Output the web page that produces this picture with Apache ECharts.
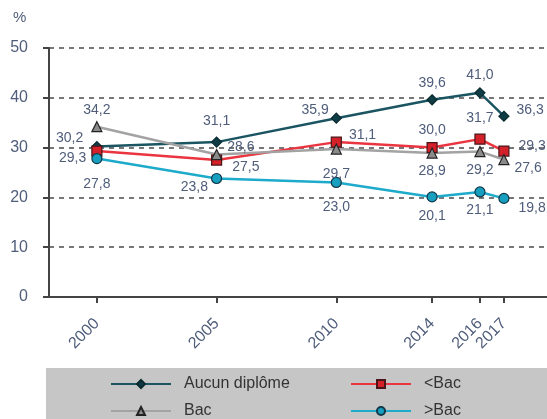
<!DOCTYPE html>
<html>
<head>
<meta charset="utf-8">
<script src="https://cdn.jsdelivr.net/npm/echarts@6/dist/echarts.min.js"></script>
<style>
html, body { margin: 0; padding: 0; background: #fff; }
#chart { width: 547px; height: 419px; }
</style>
</head>
<body>
<div id="chart"></div>
<script>
var years = [2000, 2005, 2010, 2014, 2016, 2017];
var aucun = [30.2, 31.1, 35.9, 39.6, 41.0, 36.3];
var infBac = [29.3, 27.5, 31.1, 30.0, 31.7, 29.3];
var bac = [34.2, 28.6, 29.7, 28.9, 29.2, 27.6];
var supBac = [27.8, 23.8, 23.0, 20.1, 21.1, 19.8];
var yTicks = [0, 10, 20, 30, 40, 50];

// label placement for each point: [position, dx, dy]
var aucunLbl = [["left", -3, -8], ["top", 0, -3], ["left", 3, -8], ["top", 0, 1], ["top", 0, 0], ["right", 2, -6]];
var infLbl = [["left", 0, 7], ["right", 5, 7], ["right", 2, -7], ["top", 0, 0], ["top", 0, -3], ["right", 4, -5]];
var bacLbl = [["top", 0, 1], ["right", 0, -7], ["bottom", 0, 7], ["bottom", 0, 0], ["bottom", 0, 1], ["right", 0, 9]];
var supLbl = [["bottom", 0, 8], ["left", 2, 9], ["bottom", 0, 7], ["bottom", 0, 2], ["bottom", 0, 1], ["right", 4, 10]];

var font = "'Liberation Sans', Arial, sans-serif";
var textColor = "#4f5d7a";

function points(vals, lbl) {
    return vals.map(function (v, i) {
        return {
            value: [years[i], v],
            label: { position: lbl[i][0], offset: [lbl[i][1], lbl[i][2]] }
        };
    });
}

function makeSeries(name, vals, lbl, color, symbol, size, fill, border) {
    return {
        name: name,
        type: "line",
        data: points(vals, lbl),
        symbol: symbol,
        symbolSize: size,
        lineStyle: { color: color, width: 2.5 },
        itemStyle: { color: fill, borderColor: border, borderWidth: 1.2 },
        label: {
            show: true,
            color: textColor,
            fontFamily: font,
            fontSize: 14,
            formatter: function (p) { return p.value[1].toFixed(1).replace(".", ","); }
        },
        emphasis: { disabled: true },
        z: 3
    };
}

var legendText = { fontFamily: font, fontSize: 16, color: "#333", lineHeight: 18, padding: [0, 0, 0, 8] };

var dom = document.getElementById("chart");
var myChart = echarts.init(dom);
option = {
    animation: false,
    backgroundColor: "#fff",
    graphic: [
        { type: "rect", left: 46, top: 368, shape: { width: 501, height: 51 }, style: { fill: "#c6c6c6" }, z: -10 },
        { type: "text", left: 13, top: 10, style: { text: "%", fill: textColor, font: "15px " + font } }
    ],
    grid: { left: 49, right: 0, top: 48, bottom: 122 },
    legend: [
        {
            orient: "vertical", left: 110, top: 375, height: 50, padding: 0,
            itemWidth: 60, itemHeight: 10, itemGap: 9,
            data: ["Aucun diplôme", "Bac"],
            textStyle: legendText
        },
        {
            orient: "vertical", left: 350, top: 375, height: 50, padding: 0,
            itemWidth: 60, itemHeight: 10, itemGap: 9,
            data: ["<Bac", ">Bac"],
            textStyle: legendText
        }
    ],
    xAxis: {
        type: "value",
        min: 1998,
        max: 2018.8,
        splitLine: { show: false },
        axisLine: { lineStyle: { color: "#444", width: 2 } },
        axisTick: { show: true, customValues: years, length: 6, lineStyle: { color: "#444", width: 2 } },
        axisLabel: {
            customValues: years,
            rotate: 45,
            margin: 24,
            color: textColor,
            fontFamily: font,
            fontSize: 16,
            formatter: function (v) { return String(v); }
        }
    },
    yAxis: {
        type: "value",
        min: 0,
        max: 50,
        interval: 10,
        axisLine: { show: true, lineStyle: { color: "#444", width: 2 } },
        axisTick: { show: true, length: 6, lineStyle: { color: "#444", width: 2 } },
        axisLabel: {
            margin: 21,
            color: textColor,
            fontFamily: font,
            fontSize: 16,
            formatter: function (v) { return yTicks.indexOf(v) >= 0 ? String(v) : ""; }
        },
        splitLine: { show: true, lineStyle: { color: "#777", width: 2, type: [5, 5] } }
    },
    series: [
        makeSeries("Aucun diplôme", aucun, aucunLbl, "#1b5562", "diamond", 10, "#0f3d46", "#0b2a30"),
        makeSeries("<Bac", infBac, infLbl, "#ea3540", "rect", 10, "#d42029", "#4a1518"),
        makeSeries("Bac", bac, bacLbl, "#a3a3a3", "triangle", 10, "#8a8a8a", "#222"),
        makeSeries(">Bac", supBac, supLbl, "#1eaacb", "circle", 10, "#169fbe", "#12384a")
    ]
};
if (option && typeof option === "object") {
    myChart.setOption(option, true);
}
</script>
</body>
</html>
